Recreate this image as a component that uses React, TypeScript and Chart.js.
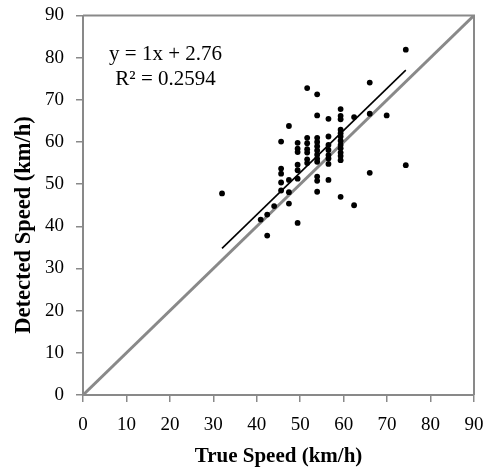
import React, { useEffect, useRef } from "react";
import { Chart, registerables } from "chart.js";

Chart.register(...registerables);

// ---- Data ----
const AXIS_MIN = 0;
const AXIS_MAX = 90;
const TICK_STEP = 10;

const trueSpeed = [
  32.0,
  40.9,
  42.4, 42.4,
  44.0,
  45.6, 45.6, 45.6, 45.6, 45.6,
  47.4, 47.4, 47.4, 47.4,
  49.4, 49.4, 49.4, 49.4, 49.4, 49.4, 49.4,
  51.6, 51.6, 51.6, 51.6, 51.6, 51.6, 51.6,
  53.9, 53.9, 53.9, 53.9, 53.9, 53.9, 53.9, 53.9, 53.9, 53.9, 53.9, 53.9,
  56.5, 56.5, 56.5, 56.5, 56.5, 56.5, 56.5, 56.5,
  59.3, 59.3, 59.3, 59.3, 59.3, 59.3, 59.3, 59.3, 59.3, 59.3, 59.3, 59.3, 59.3,
  62.4, 62.4,
  66.0, 66.0, 66.0,
  69.9,
  74.3, 74.3,
];

const detectedSpeed = [
  47.8,
  41.6,
  42.8, 37.8,
  44.8,
  60.1, 53.7, 52.5, 50.4, 48.5,
  63.8, 51.0, 48.1, 45.4,
  59.8, 58.4, 57.6, 54.6, 53.3, 51.3, 40.8,
  72.8, 61.0, 59.7, 58.3, 57.5, 55.9, 55.0,
  71.3, 66.3, 61.0, 60.0, 59.0, 58.0, 57.0, 56.0, 55.3, 51.8, 50.8, 48.2,
  65.5, 61.3, 59.3, 58.1, 56.9, 56.1, 54.8, 51.0,
  67.8, 66.2, 65.4, 62.9, 62.1, 61.3, 60.3, 59.3, 58.5, 57.5, 56.7, 55.7, 47.0,
  65.9, 45.0,
  74.1, 66.7, 52.7,
  66.3,
  81.9, 54.5,
];

const TREND_SLOPE = 1;
const TREND_INTERCEPT = 2.76;
const equationLines = ["y = 1x + 2.76", "R\u00B2 = 0.2594"];
const equationX = 19;
const equationY = [80.8, 74.8];
const identityRange = [0, 90];

const xTitle = "True Speed (km/h)";
const yTitle = "Detected Speed (km/h)";

export default function App() {
  const ref = useRef<HTMLCanvasElement>(null);

  useEffect(() => {
    const canvas = ref.current;
    if (!canvas) return;
    const serif = "'Liberation Serif', 'Times New Roman', serif";
    const gray = "#898989";

    const points = trueSpeed.map((x, i) => ({ x, y: detectedSpeed[i] }));
    const xMin = Math.min(...trueSpeed);
    const xMax = Math.max(...trueSpeed);
    const trend = [xMin, xMax].map((x) => ({ x, y: TREND_SLOPE * x + TREND_INTERCEPT }));
    const identity = identityRange.map((v) => ({ x: v, y: v }));

    const framePlugin = {
      id: "frame",
      beforeDatasetsDraw(chart: any) {
        const { ctx, chartArea } = chart;
        ctx.save();
        ctx.strokeStyle = gray;
        ctx.lineWidth = 2;
        ctx.beginPath();
        ctx.moveTo(chartArea.left, chartArea.top);
        ctx.lineTo(chartArea.right, chartArea.top);
        ctx.lineTo(chartArea.right, chartArea.bottom);
        ctx.stroke();
        ctx.restore();
      },
      afterDraw(chart: any) {
        const { ctx } = chart;
        const xs = chart.scales.x;
        const ys = chart.scales.y;
        ctx.save();
        ctx.fillStyle = "#000";
        ctx.font = `21px ${serif}`;
        ctx.textAlign = "center";
        ctx.textBaseline = "middle";
        equationLines.forEach((t, i) => {
          ctx.fillText(t, xs.getPixelForValue(equationX), ys.getPixelForValue(equationY[i]));
        });
        ctx.restore();
      },
    };

    const chart = new Chart(canvas, {
      type: "scatter",
      data: {
        datasets: [
          {
            label: "Trend",
            data: trend,
            showLine: true,
            borderColor: "#000",
            borderWidth: 1.6,
            pointRadius: 0,
            fill: false,
          },
          {
            label: "Detected",
            data: points,
            backgroundColor: "#000",
            borderColor: "#000",
            borderWidth: 0,
            pointRadius: 2.9,
            pointStyle: "circle",
          },
          {
            label: "Identity",
            data: identity,
            showLine: true,
            borderColor: gray,
            borderWidth: 3,
            pointRadius: 0,
            fill: false,
          },
        ],
      },
      options: {
        responsive: false,
        animation: false,
        devicePixelRatio: 1,
        layout: { padding: { left: 0, top: 15.5, right: 14, bottom: 0 } },
        plugins: {
          legend: { display: false },
          tooltip: { enabled: false },
        },
        scales: {
          x: {
            type: "linear",
            min: AXIS_MIN,
            max: AXIS_MAX,
            afterFit: (s: any) => {
              s.height = 76;
              s.paddingLeft = 0;
              s.paddingRight = 0;
            },
            ticks: {
              stepSize: TICK_STEP,
              color: "#000",
              font: { family: serif, size: 19 },
              padding: 12,
              maxRotation: 0,
            },
            grid: {
              drawOnChartArea: false,
              drawTicks: true,
              tickLength: 7,
              color: gray,
              lineWidth: 1.5,
            },
            border: { display: true, color: gray, width: 2 },
            title: {
              display: true,
              text: xTitle,
              color: "#000",
              font: { family: serif, size: 21, weight: "bold" },
              padding: { top: 0, bottom: 2 },
            },
          },
          y: {
            type: "linear",
            min: AXIS_MIN,
            max: AXIS_MAX,
            afterFit: (s: any) => {
              s.width = 83;
              s.paddingTop = 0;
              s.paddingBottom = 0;
            },
            ticks: {
              stepSize: TICK_STEP,
              color: "#000",
              font: { family: serif, size: 19 },
              padding: 12,
            },
            grid: {
              drawOnChartArea: false,
              drawTicks: true,
              tickLength: 7,
              color: gray,
              lineWidth: 1.5,
            },
            border: { display: true, color: gray, width: 2 },
            title: {
              display: true,
              text: yTitle + "\u00A0\u00A0\u00A0\u00A0\u00A0\u00A0\u00A0",
              color: "#000",
              font: { family: serif, size: 22.5, weight: "bold" },
              padding: { top: 11, bottom: 0 },
            },
          },
        },
      },
      plugins: [framePlugin],
    });

    return () => {
      chart.destroy();
    };
  }, []);

  return (
    <div
      style={{
        position: "fixed",
        left: 0,
        top: 0,
        width: 488,
        height: 471,
        background: "#fff",
      }}
    >
      <canvas ref={ref} width={488} height={471} style={{ display: "block", width: 488, height: 471 }} />
    </div>
  );
}
